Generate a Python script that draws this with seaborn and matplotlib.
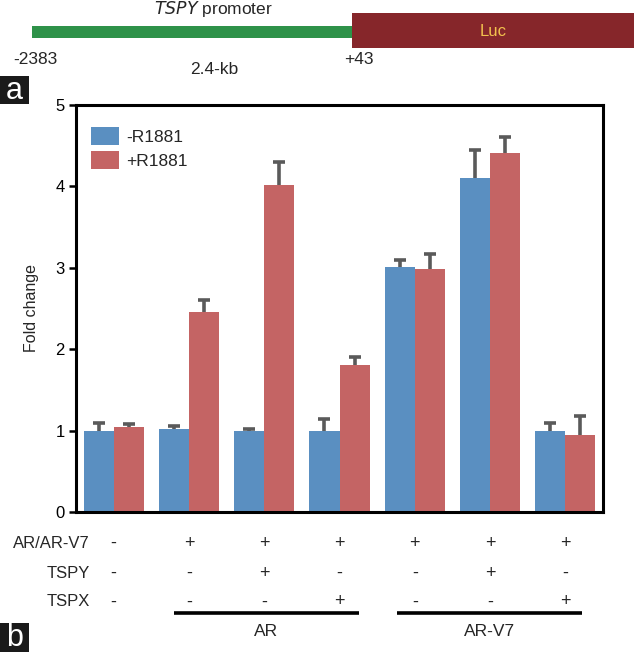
import matplotlib
matplotlib.use("Agg")
import matplotlib.pyplot as plt
import matplotlib.transforms as mtransforms
from matplotlib.patches import Rectangle
import seaborn as sns
import pandas as pd
import numpy as np

# ---------------- data ----------------
conditions = ["Ctrl", "AR", "AR+TSPY", "AR+TSPX", "AR-V7", "AR-V7+TSPY", "AR-V7+TSPX"]
series = ["-R1881", "+R1881"]
minus_r1881 = [1.00, 1.02, 1.00, 1.00, 3.01, 4.10, 1.00]
plus_r1881 = [1.04, 2.46, 4.02, 1.81, 2.99, 4.41, 0.94]
minus_err = [0.09, 0.04, 0.02, 0.14, 0.08, 0.35, 0.09]
plus_err = [0.04, 0.14, 0.28, 0.10, 0.18, 0.20, 0.24]
yticks = [0, 1, 2, 3, 4, 5]
row_names = ["AR/AR-V7", "TSPY", "TSPX"]
ar_row = ["-", "+", "+", "+", "+", "+", "+"]
tspy_row = ["-", "-", "+", "-", "-", "+", "-"]
tspx_row = ["-", "-", "-", "+", "-", "-", "+"]
group_labels = ["AR", "AR-V7"]

df = pd.DataFrame({
    "condition": conditions * 2,
    "treatment": [series[0]] * len(conditions) + [series[1]] * len(conditions),
    "fold": minus_r1881 + plus_r1881,
})

sns.set_theme(style="white")
plt.rcParams["font.family"] = ["Liberation Sans", "DejaVu Sans"]

W, H = 634, 652
fig = plt.figure(figsize=(W / 100, H / 100), dpi=100)

def fx(px):
    return px / W

def fy(py):
    return 1 - py / H

ax = fig.add_axes([fx(76), fy(512), fx(603) - fx(76), fy(105) - fy(512)])

blue = "#5a8fc1"
red = "#c46464"
sns.barplot(data=df, x="condition", y="fold", hue="treatment", order=conditions,
            hue_order=series, palette=[blue, red], errorbar=None, width=0.8,
            saturation=1, linewidth=0, ax=ax)

errs = [minus_err, plus_err]
for cont, err in zip(ax.containers, errs):
    xs = [p.get_x() + p.get_width() / 2 for p in cont]
    ys = [p.get_height() for p in cont]
    _, caps, _ = ax.errorbar(xs, ys, yerr=[np.zeros(len(err)), err], fmt="none",
                             ecolor="#5a5a5a", elinewidth=2.6, capsize=4.5,
                             capthick=2.6, zorder=3)
    caps[0].set_visible(False)

ax.set_xlim(-0.5, len(conditions) - 0.5)
ax.set_ylim(0, 5)
ax.set_yticks(yticks)
ax.set_yticklabels([str(t) for t in yticks], fontsize=12)
ax.set_xticks([])
ax.set_xlabel("")
ax.set_ylabel("Fold change", fontsize=11.5, labelpad=12)
ax.tick_params(axis="y", which="both", left=True, length=5, width=1.8,
               direction="out", pad=3, colors="black")
for s in ax.spines.values():
    s.set_visible(True)
    s.set_color("black")
    s.set_linewidth(2.2)

handles, labels = ax.get_legend_handles_labels()
ax.legend(handles[:2], labels[:2], loc="upper left",
          bbox_to_anchor=((91 - 76) / 527, (512 - 127) / 407),
          frameon=False, fontsize=12.5, handlelength=1.6, handleheight=1.2,
          handletextpad=0.45, labelspacing=0.35, borderpad=0, borderaxespad=0)

# ---------------- table below ----------------
blend = mtransforms.blended_transform_factory(ax.transData, fig.transFigure)
rows = [ar_row, tspy_row, tspx_row]
row_y = [543, 573, 602]
for name, row, py in zip(row_names, rows, row_y):
    fig.text(fx(90), fy(py), name, ha="right", va="center", fontsize=12)
    for i, sgn in enumerate(row):
        ax.text(i, fy(py), sgn, transform=blend, ha="center", va="center",
                fontsize=13)

line_y = fy(613)
ax.plot([0.80, 3.26], [line_y, line_y], transform=blend, color="black",
        lw=2.6, clip_on=False, solid_capstyle="butt")
ax.plot([3.76, 6.22], [line_y, line_y], transform=blend, color="black",
        lw=2.6, clip_on=False, solid_capstyle="butt")
ax.text(2.03, fy(631), group_labels[0], transform=blend, ha="center",
        va="center", fontsize=12.5)
ax.text(4.99, fy(631), group_labels[1], transform=blend, ha="center",
        va="center", fontsize=12.5)

# ---------------- schematic (panel a) ----------------
fig.add_artist(Rectangle((fx(32), fy(38)), fx(352) - fx(32), fy(26) - fy(38),
                         transform=fig.transFigure, facecolor="#2e9249",
                         edgecolor="none"))
fig.add_artist(Rectangle((fx(352), fy(48)), fx(634) - fx(352), fy(13) - fy(48),
                         transform=fig.transFigure, facecolor="#86262a",
                         edgecolor="none"))
fig.text(fx(493), fy(31), "Luc", ha="center", va="center", fontsize=12,
         color="#f2c14e")
fig.text(fx(213), fy(9), r"$\it{TSPY}$ promoter", ha="center", va="center",
         fontsize=12.5)
fig.text(fx(35), fy(60), "-2383", ha="center", va="center", fontsize=12.5)
fig.text(fx(214), fy(69), "2.4-kb", ha="center", va="center", fontsize=12.5)
fig.text(fx(359), fy(60), "+43", ha="center", va="center", fontsize=12.5)

# panel letters
for (top, bottom, letter) in [(76, 104, "a"), (623, 652, "b")]:
    fig.add_artist(Rectangle((0, fy(bottom)), fx(29), fy(top) - fy(bottom),
                             transform=fig.transFigure, facecolor="#1a1a1a",
                             edgecolor="none"))
    fig.text(fx(14.5), fy((top + bottom) / 2 + 1), letter, ha="center",
             va="center", fontsize=22, color="white")

fig.savefig("out.png", dpi=100)
